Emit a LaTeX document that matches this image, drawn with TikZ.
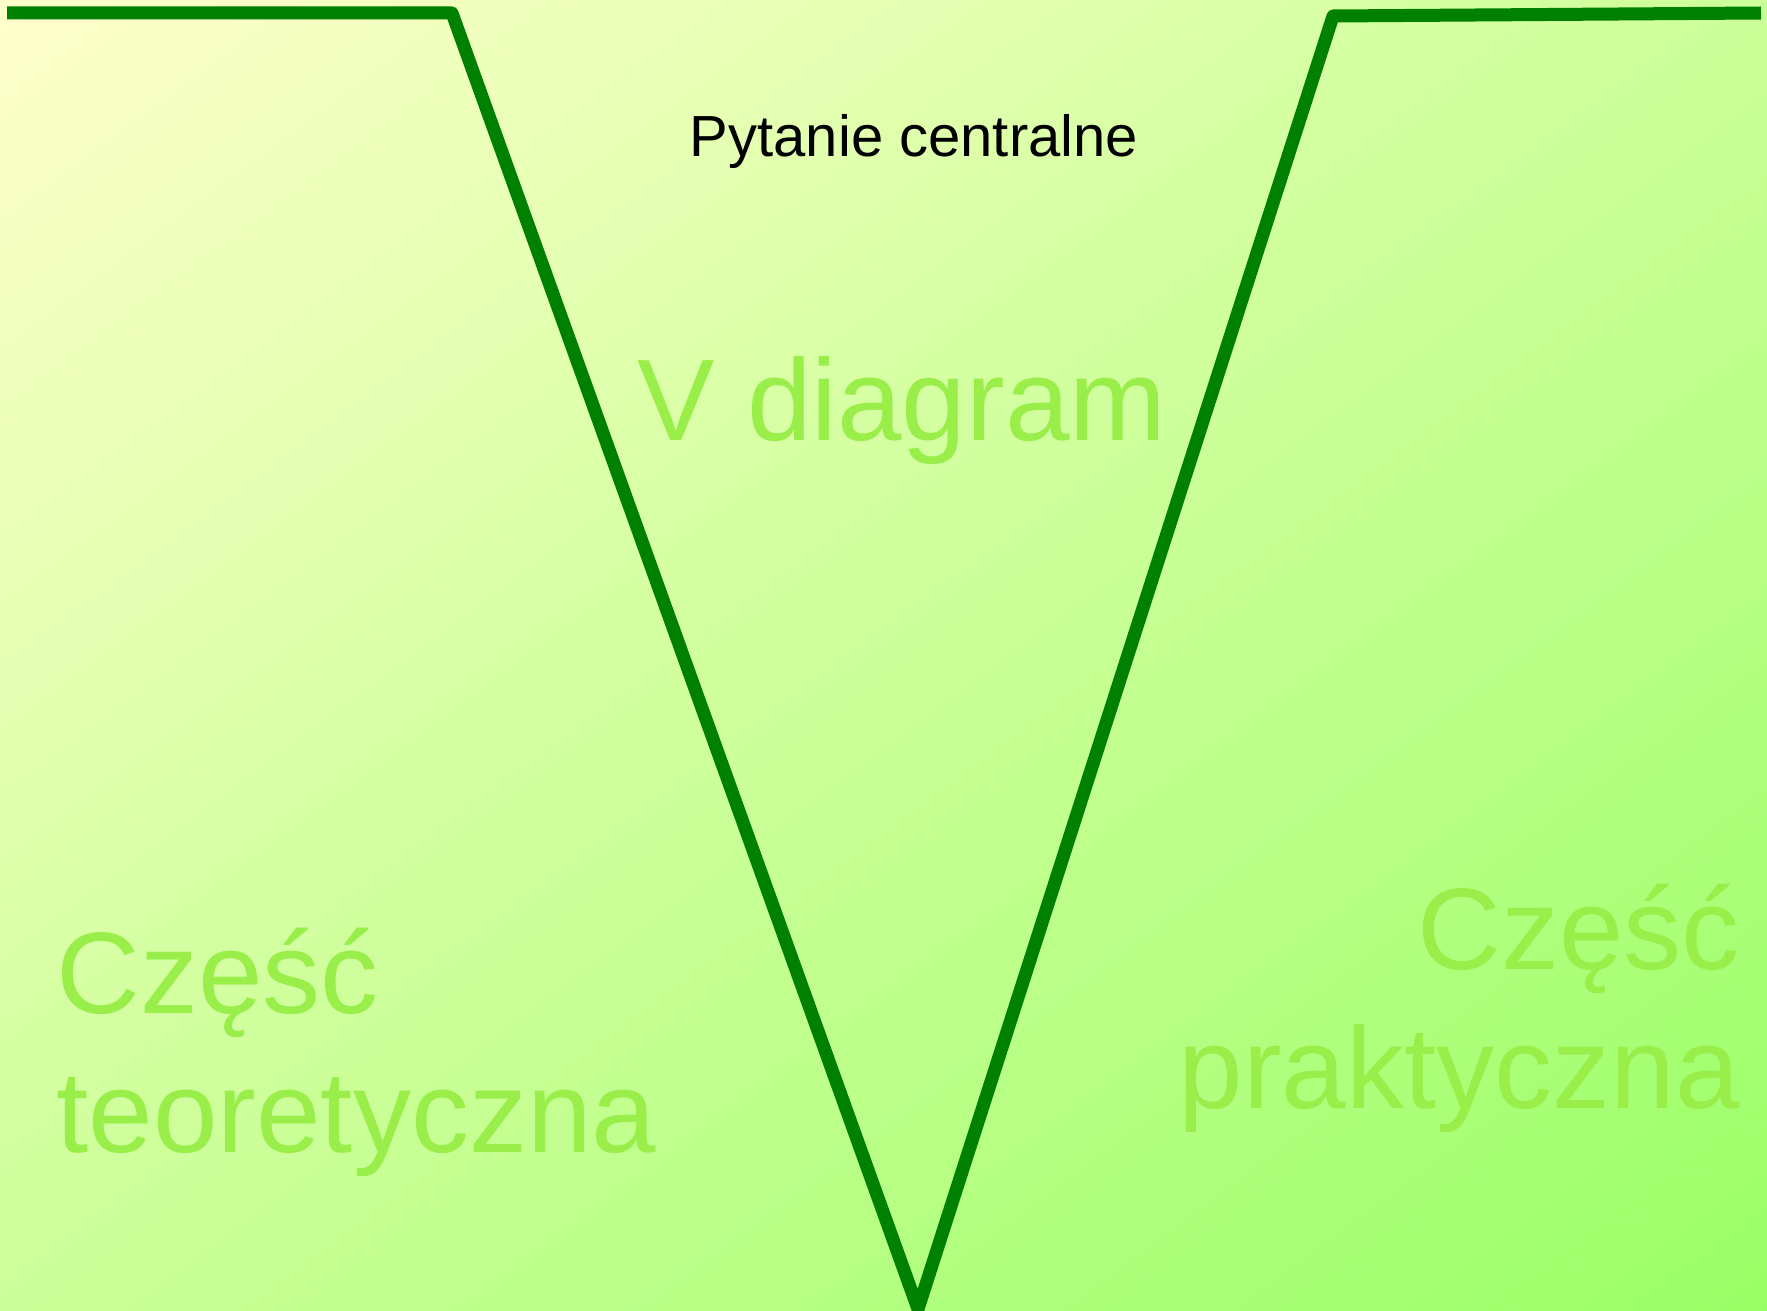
\documentclass[tikz,border=0pt]{standalone}
\usepackage{fontspec}
\setmainfont{Liberation Sans}
\usepackage{tikz}
\usetikzlibrary{positioning,shadings}

\definecolor{vgreen}{HTML}{008000}
\definecolor{paletxt}{HTML}{99EE4A}
\definecolor{bgtl}{HTML}{FFFFCC}
\definecolor{bgmid}{HTML}{CCFF99}
\definecolor{bgbr}{HTML}{99FF66}

\tikzset{
  bigtxt/.style={text=paletxt, inner sep=0pt, font=\fontsize{58}{69.5}\selectfont},
  vline/.style={draw=vgreen, line width=6.5pt, line join=round}
}

\begin{document}
\begin{tikzpicture}[x=0.5pt, y=-0.5pt]
    % Background
    \shade[upper left=bgtl, upper right=bgmid, lower left=bgmid, lower right=bgbr]
        (0,0) rectangle (1767,1311);
    \useasboundingbox (0,0) rectangle (1767,1311);
    \clip (0,0) rectangle (1767,1311);

    % V corners
    \coordinate (lt) at (7,13);
    \coordinate (lc) at (452,13);
    \coordinate (apex) at (918,1309);
    \coordinate (rc) at (1333,16);
    \coordinate (rt) at (1761,13);

    % V shape
    \draw[vline] (lt) -- (lc) -- (apex) -- (rc) -- (rt);

    % Labels
    \node[anchor=base, inner sep=0pt, font=\fontsize{29}{35}\selectfont] (pytanie) at (914,156) {Pytanie centralne};
    \node[bigtxt, anchor=base] (vdiag) at (902,440) {V diagram};
    \node[bigtxt, anchor=base west, align=left] (teoria) at (56,1152) {Część\\teoretyczna};
    \node[bigtxt, anchor=base east, align=right] (praktyka) at (1740,1108) {Część\\praktyczna};
\end{tikzpicture}
\end{document}
